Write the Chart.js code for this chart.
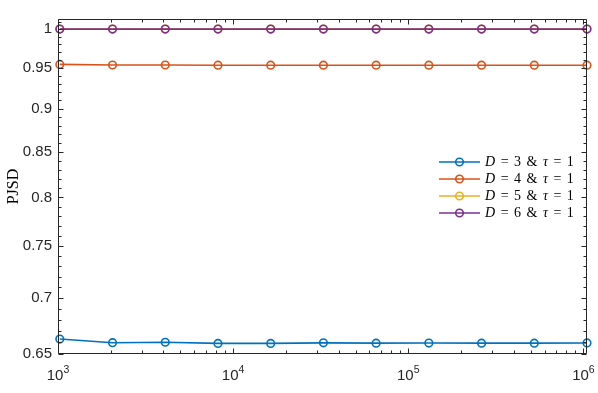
<!DOCTYPE html>
<html>
<head>
<meta charset="utf-8">
<script src="https://cdn.jsdelivr.net/npm/chart.js@4"></script>
<style>
  body { margin: 0; background: #fff; }
  #wrap { position: relative; width: 598px; height: 393px; }
  #legend {
    position: absolute; left: 439px; top: 153px;
    font-family: "Liberation Serif", "DejaVu Serif", serif; font-size: 14px; color: #000;
  }
  .row { display: flex; align-items: center; height: 17px; white-space: nowrap; }
  .row svg { margin-right: 5px; }
  .row span { word-spacing: 2px; }
</style>
</head>
<body>
<div id="wrap">
  <canvas id="chart" width="598" height="393"></canvas>
  <div id="legend"></div>
</div>
<script>
// sample sizes (x, log axis)
const nValues = [1024, 2048, 4096, 8192, 16384, 32768, 65536, 131072, 262144, 524288, 1048576];

// PJSD for each embedding dimension D (tau = 1)
const d3Values = [0.663, 0.6598, 0.6602, 0.6592, 0.6592, 0.6597, 0.6594, 0.6595, 0.6594, 0.6594, 0.6596];
const d4Values = [0.9543, 0.9535, 0.9535, 0.9533, 0.9533, 0.9533, 0.9533, 0.9533, 0.9533, 0.9533, 0.9533];
const d5Values = [1, 1, 1, 1, 1, 1, 1, 1, 1, 1, 1];
const d6Values = [1, 1, 1, 1, 1, 1, 1, 1, 1, 1, 1];

const seriesNames = ["3", "4", "5", "6"];
const seriesColors = ["#0072BD", "#D95319", "#EDB120", "#7E2F8E"];

// ticks
const xTicks = [1e3, 1e4, 1e5, 1e6];
const xTickExponents = ["3", "4", "5", "6"];
const yTicks = [0.65, 0.7, 0.75, 0.8, 0.85, 0.9, 0.95, 1];
const yTickLabels = ["0.65", "0.7", "0.75", "0.8", "0.85", "0.9", "0.95", "1"];

const axisColor = "#262626";
const tickFont = { family: "'Liberation Sans', Arial, sans-serif", size: 15 };

function makeDataset(values, i, order) {
  return {
    label: "D = " + seriesNames[i] + " & τ = 1",
    data: values.map((v, k) => ({ x: nValues[k], y: v })),
    borderColor: seriesColors[i],
    backgroundColor: seriesColors[i],
    borderWidth: 1.6,
    pointRadius: 3.8,
    pointBorderWidth: 1.6,
    pointBackgroundColor: "rgba(0,0,0,0)",
    pointBorderColor: seriesColors[i],
    tension: 0,
    clip: false,
    order: order
  };
}

// box, inward ticks on all sides, and x labels with superscripts
const matlabAxes = {
  id: "matlabAxes",
  afterDraw(chart) {
    const { ctx, chartArea: a, scales: { x, y } } = chart;
    const L = Math.round(a.left) + 0.5, R = Math.round(a.right) - 0.5;
    const T = Math.round(a.top) + 0.5, B = Math.round(a.bottom) - 0.5;
    ctx.save();
    ctx.strokeStyle = axisColor;
    ctx.lineWidth = 1;
    ctx.beginPath();
    ctx.rect(L, T, R - L, B - T);

    // x ticks
    for (let d = 3; d <= 6; d++) {
      for (let k = 1; k <= 9; k++) {
        const v = k * Math.pow(10, d);
        if (v < x.min || v > x.max) continue;
        const px = Math.round(x.getPixelForValue(v)) + 0.5;
        const len = k === 1 ? 5 : 3;
        ctx.moveTo(px, B); ctx.lineTo(px, B - len);
        ctx.moveTo(px, T); ctx.lineTo(px, T + len);
      }
    }
    // y ticks
    for (let i = 65; i <= 101; i++) {
      const v = i / 100;
      if (v < y.min || v > y.max) continue;
      const py = Math.round(y.getPixelForValue(v)) + 0.5;
      const len = i % 5 === 0 ? 5 : 3;
      ctx.moveTo(L, py); ctx.lineTo(L + len, py);
      ctx.moveTo(R, py); ctx.lineTo(R - len, py);
    }
    ctx.stroke();

    // x labels 10^n
    ctx.fillStyle = axisColor;
    ctx.textBaseline = "alphabetic";
    ctx.textAlign = "left";
    xTicks.forEach((v, i) => {
      const px = x.getPixelForValue(v);
      ctx.font = "15px 'Liberation Sans', Arial, sans-serif";
      const wb = ctx.measureText("10").width;
      ctx.font = "10.5px 'Liberation Sans', Arial, sans-serif";
      const we = ctx.measureText(xTickExponents[i]).width;
      const start = px - (wb + we) / 2;
      ctx.font = "15px 'Liberation Sans', Arial, sans-serif";
      ctx.fillText("10", start, 380);
      ctx.font = "10.5px 'Liberation Sans', Arial, sans-serif";
      ctx.fillText(xTickExponents[i], start + wb, 373);
    });
    ctx.restore();
  }
};

const chart = new Chart(document.getElementById("chart"), {
  type: "line",
  data: {
    datasets: [
      makeDataset(d3Values, 0, 3),
      makeDataset(d4Values, 1, 2),
      makeDataset(d5Values, 2, 1),
      makeDataset(d6Values, 3, 0)
    ]
  },
  options: {
    responsive: false,
    animation: false,
    layout: { padding: { top: 19, right: 11, left: 0, bottom: 0 } },
    plugins: { legend: { display: false }, tooltip: { enabled: false } },
    scales: {
      x: {
        type: "logarithmic",
        min: 1000,
        max: 1048576,
        afterBuildTicks: (s) => { s.ticks = xTicks.map((v) => ({ value: v })); },
        afterFit: (s) => { s.height = 39; },
        grid: { display: false, drawTicks: false },
        border: { display: false },
        ticks: { display: false }
      },
      y: {
        type: "logarithmic",
        min: 0.65,
        max: 1.0135,
        afterBuildTicks: (s) => { s.ticks = yTicks.map((v) => ({ value: v })); },
        afterFit: (s) => { s.width = 58; },
        grid: { display: false, drawTicks: false },
        border: { display: false },
        ticks: {
          callback: (v, i) => yTickLabels[i],
          font: tickFont,
          color: axisColor,
          padding: 6,
          autoSkip: false
        },
        title: {
          display: true,
          text: "PJSD",
          color: "#000",
          font: { family: "'Liberation Serif', 'DejaVu Serif', serif", size: 16 },
          padding: { top: 4, bottom: 0 }
        }
      }
    }
  },
  plugins: [matlabAxes]
});

// legend as html so D and tau can be italic
const legendEl = document.getElementById("legend");
seriesNames.forEach((name, i) => {
  const c = seriesColors[i];
  const row = document.createElement("div");
  row.className = "row";
  row.innerHTML =
    '<svg width="41" height="10"><line x1="0" y1="5" x2="41" y2="5" stroke="' + c +
    '" stroke-width="1.6"/><circle cx="20.5" cy="5" r="3.8" fill="none" stroke="' + c +
    '" stroke-width="1.6"/></svg><span><i>D</i> = ' + name + " &amp; <i>τ</i> = 1</span>";
  legendEl.appendChild(row);
});
</script>
</body>
</html>
